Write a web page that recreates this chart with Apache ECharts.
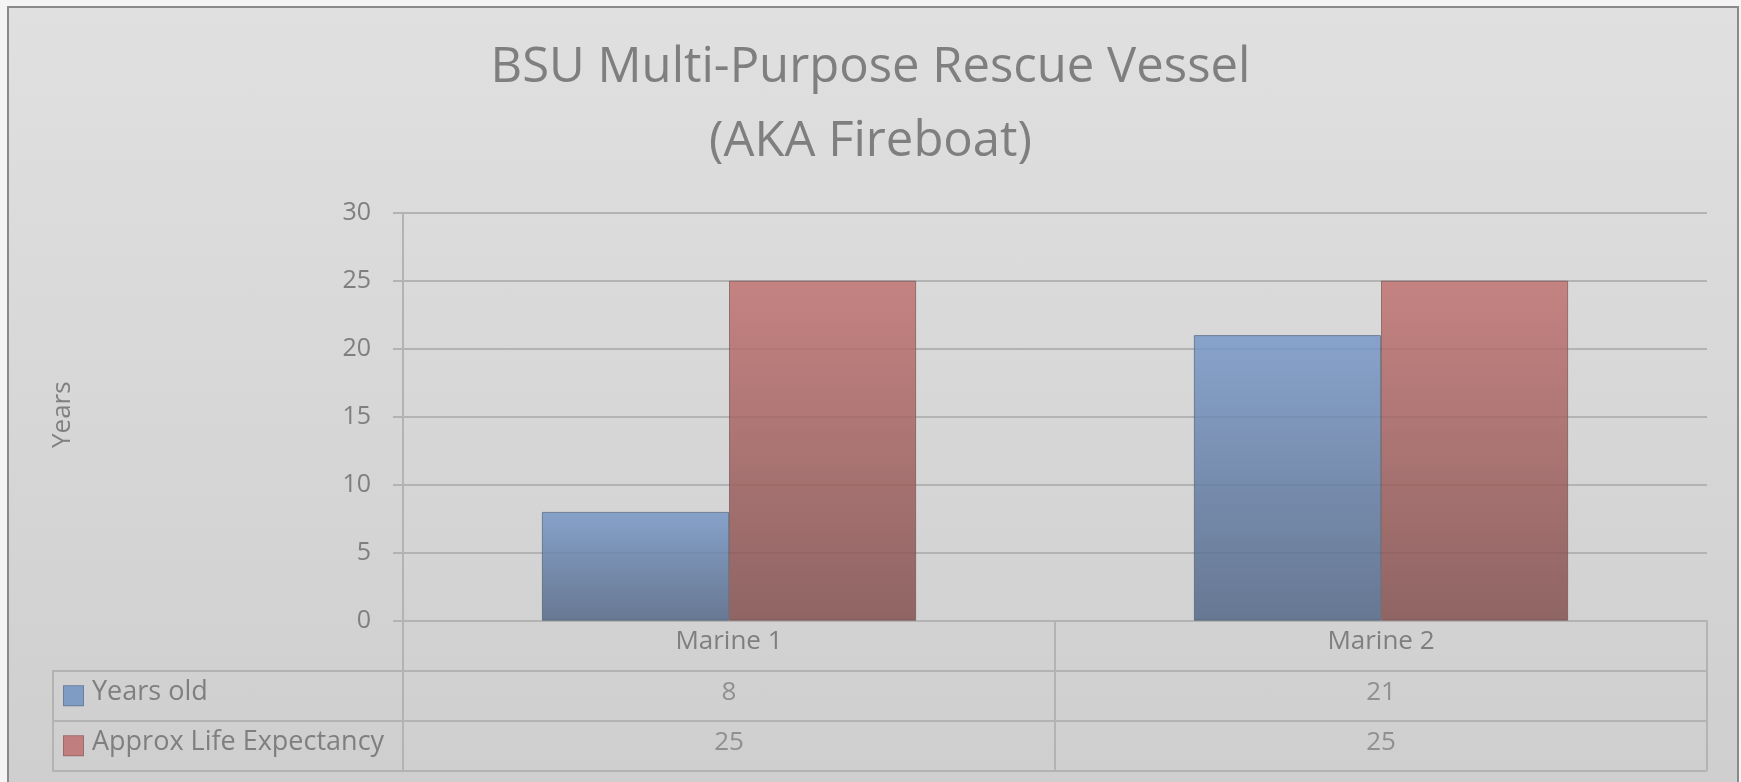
<!DOCTYPE html>
<html>
<head>
<meta charset="utf-8">
<title>BSU Multi-Purpose Rescue Vessel</title>
<script src="https://cdn.jsdelivr.net/npm/echarts@6/dist/echarts.min.js"></script>
<style>
  html, body { margin: 0; padding: 0; background: #f4f4f4; }
  #frame {
    position: absolute; left: 7px; top: 6px; width: 1728px; height: 800px;
    border: 2px solid #8a8a8a;
    background: linear-gradient(#e0e0e0, #cecece);
  }
  #main { position: absolute; left: 0; top: 0; width: 1741px; height: 782px; }
</style>
</head>
<body>
<div id="frame"></div>
<div id="main"></div>
<script>
// chart data
const categories = ["Marine 1", "Marine 2"];
const seriesNames = ["Years old", "Approx Life Expectancy"];
const yearsOld = [8, 21];
const lifeExpectancy = [25, 25];
const yMin = 0, yMax = 30, yStep = 5;

const textColor = "#7f7f7f";
const lineColor = "#b3b3b3";
const font = "Open Sans";

const blueFill = new echarts.graphic.LinearGradient(0, 0, 0, 1, [
  { offset: 0, color: "rgba(120,152,200,0.84)" },
  { offset: 1, color: "rgba(82,102,134,0.84)" },
]);
const redFill = new echarts.graphic.LinearGradient(0, 0, 0, 1, [
  { offset: 0, color: "rgba(192,114,112,0.84)" },
  { offset: 1, color: "rgba(130,80,79,0.84)" },
]);

// rows for the data table under the plot: header row + one row per series
const tableRows = ["", seriesNames[0], seriesNames[1]];
const tableData = [];
categories.forEach((c, i) => {
  tableData.push([c, seriesNames[0], yearsOld[i]]);
  tableData.push([c, seriesNames[1], lifeExpectancy[i]]);
});

const myChart = echarts.init(document.getElementById("main"));

const option = {
  backgroundColor: "transparent",
  animation: false,
  textStyle: { fontFamily: font, color: textColor },
  title: {
    text: "BSU Multi-Purpose Rescue Vessel\n(AKA Fireboat)",
    left: "center",
    top: 26,
    textStyle: {
      fontFamily: font,
      fontSize: 49,
      fontWeight: "normal",
      color: textColor,
      lineHeight: 74,
    },
  },
  grid: [
    // main plot
    { left: 403, right: 34, top: 212.7, bottom: 161.3 },
    // value cells of the data table
    { left: 403, right: 34, top: 620.7, bottom: 11.3 },
    // legend column of the data table
    { left: 53, width: 350, top: 670.7, bottom: 11.3 },
  ],
  xAxis: [
    {
      type: "category",
      gridIndex: 0,
      data: categories,
      axisLine: { lineStyle: { color: lineColor, width: 2 } },
      axisTick: { show: false },
      axisLabel: { fontSize: 26, color: textColor, margin: 8, fontFamily: font },
    },
    {
      type: "category",
      gridIndex: 1,
      data: categories,
      axisLine: { show: false },
      axisTick: { show: false },
      axisLabel: { show: false },
      splitLine: { show: true, lineStyle: { color: lineColor, width: 2 } },
    },
    { type: "value", gridIndex: 2, show: false },
  ],
  yAxis: [
    {
      type: "value",
      gridIndex: 0,
      min: yMin,
      max: yMax,
      interval: yStep,
      name: "Years",
      nameLocation: "middle",
      nameRotate: 90,
      nameGap: 327,
      nameTextStyle: { fontSize: 26, color: textColor, fontFamily: font, padding: [0, 0, 0, 4] },
      axisLine: { show: true, lineStyle: { color: lineColor, width: 2 } },
      axisTick: { show: true, length: 10, lineStyle: { color: lineColor, width: 2 } },
      axisLabel: { fontSize: 25, color: textColor, margin: 32, fontFamily: font },
      splitLine: { lineStyle: { color: lineColor, width: 2 } },
    },
    {
      type: "category",
      gridIndex: 1,
      data: tableRows,
      inverse: true,
      axisLine: { show: true, lineStyle: { color: lineColor, width: 2 } },
      axisTick: { show: false },
      splitLine: { show: true, lineStyle: { color: lineColor, width: 2 } },
      axisLabel: {
        align: "left",
        margin: 339,
        formatter: (v, idx) => (idx === 0 ? "" : "{b" + idx + "|}{t|" + v + "}"),
        rich: {
          b1: {
            width: 19, height: 19,
            backgroundColor: "#7f9cc4",
            borderColor: "#6a7f9c", borderWidth: 1,
          },
          b2: {
            width: 19, height: 19,
            backgroundColor: "#c07f7e",
            borderColor: "#9c6a69", borderWidth: 1,
          },
          t: { fontSize: 27, color: textColor, fontFamily: font, padding: [0, 0, 6, 9] },
        },
      },
    },
    {
      type: "category",
      gridIndex: 2,
      data: seriesNames,
      inverse: true,
      axisLine: { show: true, lineStyle: { color: lineColor, width: 2 } },
      axisTick: { show: false },
      axisLabel: { show: false },
      splitLine: { show: true, lineStyle: { color: lineColor, width: 2 } },
    },
  ],
  series: [
    {
      name: seriesNames[0],
      type: "bar",
      xAxisIndex: 0,
      yAxisIndex: 0,
      data: yearsOld,
      barGap: "0%",
      barCategoryGap: "42.6%",
      itemStyle: { color: blueFill, borderColor: "rgba(70,85,110,0.6)", borderWidth: 1 },
    },
    {
      name: seriesNames[1],
      type: "bar",
      xAxisIndex: 0,
      yAxisIndex: 0,
      data: lifeExpectancy,
      itemStyle: { color: redFill, borderColor: "rgba(110,70,70,0.6)", borderWidth: 1 },
    },
    {
      // values written in the data table
      type: "scatter",
      xAxisIndex: 1,
      yAxisIndex: 1,
      data: tableData,
      symbolSize: 0,
      silent: true,
      label: {
        show: true,
        position: "inside",
        offset: [0, -3],
        fontSize: 26,
        color: textColor,
        fontFamily: font,
        formatter: (p) => p.value[2],
      },
    },
  ],
};

myChart.setOption(option);
</script>
</body>
</html>
